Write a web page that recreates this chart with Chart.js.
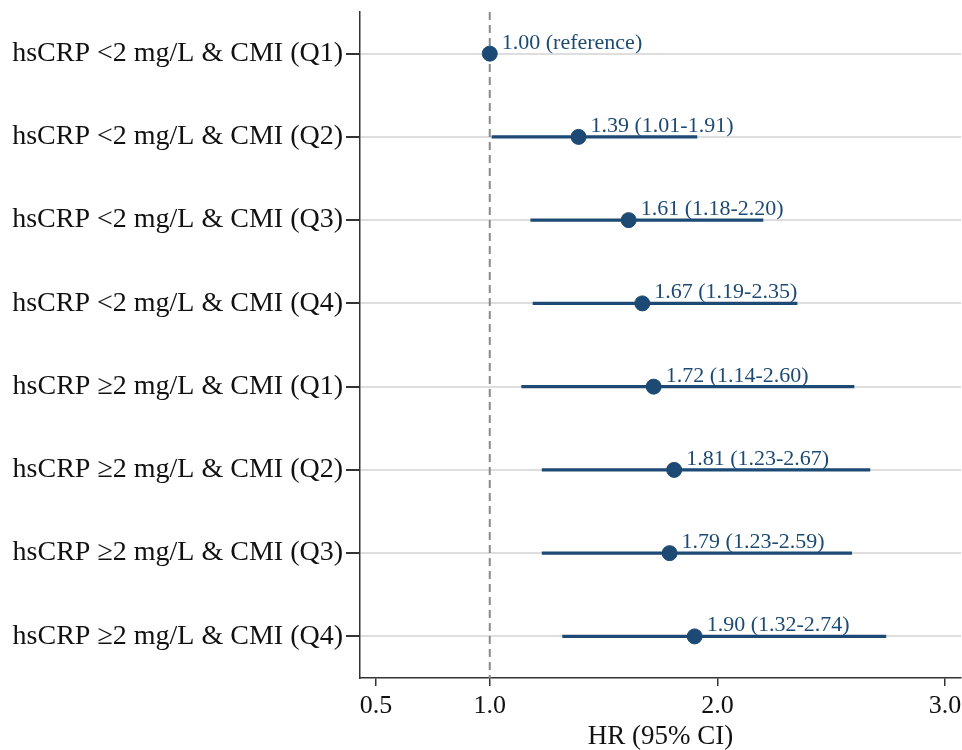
<!DOCTYPE html>
<html>
<head>
<meta charset="utf-8">
<script src="https://cdn.jsdelivr.net/npm/chart.js@4.4.1/dist/chart.umd.min.js"></script>
<style>
  html, body { margin: 0; padding: 0; background: #fff; }
  #wrap { width: 962px; height: 750px; }
</style>
</head>
<body>
<div id="wrap"><canvas id="forest"></canvas></div>
<script>
// Data
const groups = [
    'hsCRP <2 mg/L & CMI (Q1)',
    'hsCRP <2 mg/L & CMI (Q2)',
    'hsCRP <2 mg/L & CMI (Q3)',
    'hsCRP <2 mg/L & CMI (Q4)',
    'hsCRP \u22652 mg/L & CMI (Q1)',
    'hsCRP \u22652 mg/L & CMI (Q2)',
    'hsCRP \u22652 mg/L & CMI (Q3)',
    'hsCRP \u22652 mg/L & CMI (Q4)'
];
const hr = [1.00, 1.39, 1.61, 1.67, 1.72, 1.81, 1.79, 1.90];
const ciLow = [null, 1.01, 1.18, 1.19, 1.14, 1.23, 1.23, 1.32];
const ciHigh = [null, 1.91, 2.20, 2.35, 2.60, 2.67, 2.59, 2.74];
const xTicks = [0.5, 1.0, 2.0, 3.0];
const refValue = 1.0;

const navy = '#1c4a74';
const serif = "'Liberation Serif', 'Times New Roman', serif";

// Labels next to each estimate
function labelFor(i) {
    if (ciLow[i] === null) return hr[i].toFixed(2) + ' (reference)';
    return hr[i].toFixed(2) + ' (' + ciLow[i].toFixed(2) + '-' + ciHigh[i].toFixed(2) + ')';
}

// Dashed reference line at HR = 1
const refLine = {
    id: 'refLine',
    beforeDatasetsDraw(chart) {
        const { ctx, chartArea, scales } = chart;
        const x = scales.x.getPixelForValue(refValue);
        ctx.save();
        ctx.strokeStyle = '#8a8a8a';
        ctx.lineWidth = 2;
        ctx.setLineDash([8, 5]);
        ctx.beginPath();
        ctx.moveTo(x, chartArea.top);
        ctx.lineTo(x, chartArea.bottom);
        ctx.stroke();
        ctx.restore();
    }
};

// Text "HR (CI)" above each point
const hrText = {
    id: 'hrText',
    afterDatasetsDraw(chart) {
        const { ctx, scales } = chart;
        ctx.save();
        ctx.font = '22px ' + serif;
        ctx.fillStyle = navy;
        ctx.textAlign = 'left';
        ctx.textBaseline = 'alphabetic';
        hr.forEach((v, i) => {
            const x = scales.x.getPixelForValue(v);
            const y = scales.y.getPixelForValue(i);
            ctx.fillText(labelFor(i), x + 12, y - 5);
        });
        ctx.restore();
    }
};

const ctx = document.getElementById('forest').getContext('2d');
const forestChart = new Chart(ctx, {
    data: {
        labels: groups,
        datasets: [{
            type: 'bar',
            label: '95% CI',
            data: ciLow.map((lo, i) => lo === null ? null : [lo, ciHigh[i]]),
            backgroundColor: navy,
            borderWidth: 0,
            barThickness: 2.5,
            order: 2
        }, {
            type: 'scatter',
            label: 'HR',
            data: hr.map((v, i) => ({ x: v, y: groups[i] })),
            backgroundColor: navy,
            borderColor: navy,
            pointRadius: 7.5,
            pointHoverRadius: 7.5,
            order: 1
        }]
    },
    options: {
        indexAxis: 'y',
        responsive: true,
        maintainAspectRatio: false,
        animation: false,
        layout: { autoPadding: false, padding: { top: 12, right: 1, left: 0, bottom: 0 } },
        plugins: {
            legend: { display: false },
            tooltip: { enabled: false }
        },
        scales: {
            x: {
                type: 'linear',
                min: 0.43,
                max: 3.07,
                afterBuildTicks: function (scale) {
                    scale.ticks = xTicks.map(v => ({ value: v }));
                },
                afterFit: function (scale) {
                    scale.height = 72;
                    scale.paddingLeft = 0;
                    scale.paddingRight = 0;
                },
                border: { display: true, color: '#333', width: 1.5 },
                grid: {
                    drawOnChartArea: false,
                    drawTicks: true,
                    tickLength: 8,
                    tickColor: '#333',
                    lineWidth: 1.5
                },
                ticks: {
                    color: '#111',
                    font: { family: serif, size: 26 },
                    padding: 5,
                    maxRotation: 0,
                    callback: function (value) {
                        return Number(value).toFixed(1);
                    }
                },
                title: {
                    display: true,
                    text: 'HR (95% CI)',
                    color: '#111',
                    font: { family: serif, size: 27 },
                    padding: { top: 0, bottom: -3 }
                }
            },
            y: {
                type: 'category',
                offset: true,
                afterFit: function (scale) {
                    scale.width = 360;
                    scale.paddingTop = 0;
                    scale.paddingBottom = 0;
                },
                border: { display: true, color: '#333', width: 1.5 },
                grid: {
                    offset: false,
                    color: '#dedede',
                    lineWidth: 2,
                    tickColor: '#333',
                    tickLength: 14,
                    drawTicks: true
                },
                ticks: {
                    color: '#111',
                    font: { family: serif, size: 28 },
                    padding: 3
                }
            }
        }
    },
    plugins: [refLine, hrText]
});
</script>
</body>
</html>
